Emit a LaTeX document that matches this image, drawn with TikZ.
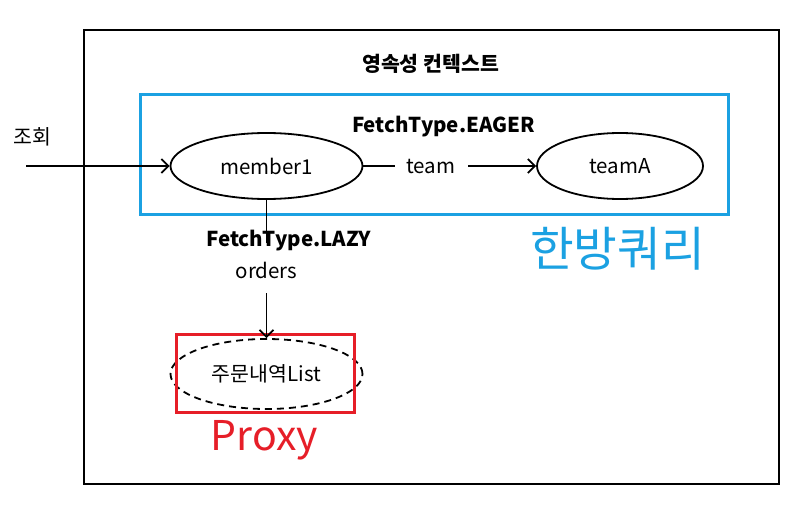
\documentclass[tikz,border=0pt]{standalone}
\usepackage{fontspec}
\setmainfont{Noto Sans CJK KR}
\usetikzlibrary{shapes.geometric,arrows.meta}
\definecolor{bluebox}{RGB}{27,161,226}
\definecolor{redbox}{RGB}{230,30,40}
\tikzset{
  ent/.style={draw=black, line width=1.8pt, ellipse, inner sep=0pt, font=\fontsize{20.5}{24}\selectfont},
  lbl/.style={inner sep=0pt, font=\fontsize{20.5}{24}\selectfont},
  blbl/.style={inner sep=0pt, font=\fontsize{20.5}{24}\selectfont\bfseries},
  conn/.style={line width=1.8pt},
  arr/.style={line width=1.8pt, -{Straight Barb[length=7pt,width=14pt,line width=1.8pt]}},
}
\begin{document}
\begin{tikzpicture}[x=1pt,y=-1pt]
\useasboundingbox (0,0) rectangle (802,505);
% outer context box
\draw[line width=1.8pt] (84,30) rectangle (779,484);
\node[blbl] (title) at (430.5,64) {영속성 컨텍스트};
% blue box
\draw[bluebox, line width=3pt] (140,95) rectangle (728,214);
\node[blbl] (eager) at (443.5,127) {FetchType.EAGER};
% entities
\node[ent, minimum width=192pt, minimum height=66pt] (member1) at (266.5,166) {member1};
\node[ent, minimum width=166pt, minimum height=66pt] (teamA) at (620,166) {teamA};
\node[ent, dashed, dash pattern=on 7pt off 5pt, minimum width=192pt, minimum height=70pt] (list) at (266.5,374) {주문내역List};
% red proxy box
\draw[redbox, line width=3pt] (176,334) rectangle (354,412);
% query
\node[lbl] (query) at (32,137) {조회};
\coordinate (qstart) at (26,166);
\draw[arr] (qstart) -- (member1);
% team edge
\node[lbl] (team) at (431,166) {team};
\draw[conn] (member1) -- (team.west -| 395,0);
\draw[arr] (team.east -| 468,0) -- (teamA);
% lazy edge
\node[blbl] (lazy) at (288.5,241) {FetchType.LAZY};
\node[lbl] (orders) at (266.5,270) {orders};
\coordinate (l1) at (266.5,243);
\coordinate (l2) at (266.5,293);
\draw[conn] (member1.south) -- (l1);
\draw[arr] (l2) -- (list.north);
% big labels
\node[inner sep=0pt, text=bluebox, font=\fontsize{47.5}{52}\selectfont] (onequery) at (617.5,249) {한방쿼리};
\node[inner sep=0pt, text=redbox, font=\fontsize{41}{44}\selectfont] (proxy) at (264.5,440) {Proxy};
\end{tikzpicture}
\end{document}
